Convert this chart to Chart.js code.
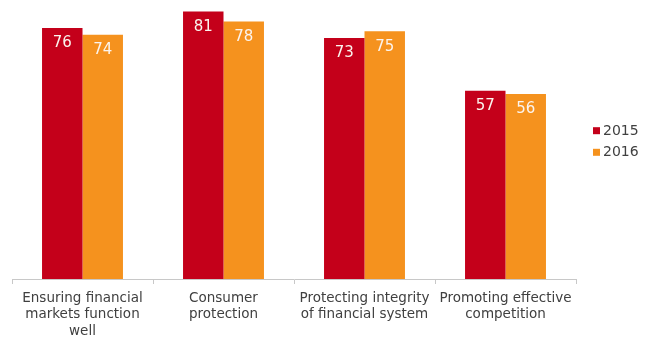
<!DOCTYPE html>
<html>
<head>
<meta charset="utf-8">
<script src="https://cdn.jsdelivr.net/npm/chart.js@4/dist/chart.umd.min.js"></script>
<style>
  html, body { margin: 0; padding: 0; background: #ffffff; }
  #wrap { width: 651px; height: 338px; }
</style>
</head>
<body>
<div id="wrap"><canvas id="c" width="651" height="338"></canvas></div>
<script>
// Policy objectives and the share of respondents for each year
const categories = [
  ["Ensuring financial", "markets function", "well"],
  ["Consumer", "protection"],
  ["Protecting integrity", "of financial system"],
  ["Promoting effective", "competition"]
];
const seriesNames = ["2015", "2016"];
const values2015 = [76, 81, 73, 57];
const values2016 = [74, 78, 75, 56];

const seriesColors = ["#c4001a", "#f5921e"];
const FONT = "'DejaVu Sans', Verdana, sans-serif";

// White value labels inside the top of each bar
const valueLabels = {
  id: 'valueLabels',
  afterDatasetsDraw(chart) {
    const ctx = chart.ctx;
    ctx.save();
    ctx.font = "15px " + FONT;
    ctx.fillStyle = "#fbf4ee";
    ctx.textAlign = "center";
    ctx.textBaseline = "middle";
    chart.data.datasets.forEach((ds, i) => {
      chart.getDatasetMeta(i).data.forEach((bar, j) => {
        ctx.fillText(String(ds.data[j]), bar.x, bar.y + 15.5);
      });
    });
    ctx.restore();
  }
};

// Series key drawn to the right of the plot
const sideLegend = {
  id: 'sideLegend',
  afterDraw(chart) {
    const ctx = chart.ctx;
    const area = chart.chartArea;
    const mid = (area.top + area.bottom) / 2 + 2;
    const gap = 21.6;
    const x0 = area.right + 17;
    ctx.save();
    ctx.font = "14px " + FONT;
    ctx.textBaseline = "middle";
    ctx.textAlign = "left";
    chart.data.datasets.forEach((ds, i) => {
      const y = mid + (i - (chart.data.datasets.length - 1) / 2) * gap;
      ctx.fillStyle = ds.backgroundColor;
      ctx.fillRect(x0, y - 3.5, 7, 7);
      ctx.fillStyle = "#404040";
      ctx.fillText(ds.label, x0 + 10, y + 0.5);
    });
    ctx.restore();
  }
};

new Chart(document.getElementById('c'), {
  type: 'bar',
  data: {
    labels: categories,
    datasets: [
      { label: seriesNames[0], data: values2015, backgroundColor: seriesColors[0],
        barPercentage: 1, categoryPercentage: 0.574 },
      { label: seriesNames[1], data: values2016, backgroundColor: seriesColors[1],
        barPercentage: 1, categoryPercentage: 0.574 }
    ]
  },
  options: {
    responsive: false,
    devicePixelRatio: 1,
    animation: false,
    layout: { padding: { left: 12, right: 75, top: 0, bottom: 0 } },
    plugins: {
      legend: { display: false },
      tooltip: { enabled: false }
    },
    scales: {
      x: {
        grid: { offset: true, drawOnChartArea: false, tickLength: 5, color: '#c8c8c8', lineWidth: 1 },
        border: { color: '#c8c8c8', width: 1 },
        ticks: {
          color: '#404040',
          font: { family: FONT, size: 13.5, lineHeight: 1.22 },
          maxRotation: 0,
          autoSkip: false,
          padding: 6
        },
        afterFit(scale) { scale.height = 59; }
      },
      y: {
        display: false,
        min: 0,
        max: 84.5
      }
    }
  },
  plugins: [valueLabels, sideLegend]
});
</script>
</body>
</html>
